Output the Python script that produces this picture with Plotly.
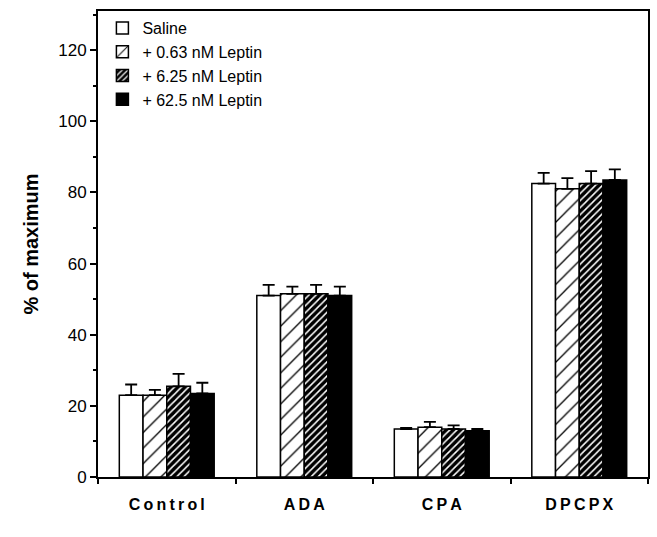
import plotly.graph_objects as go

categories = ["Control", "ADA", "CPA", "DPCPX"]
series_names = ["Saline", "+ 0.63 nM Leptin", "+ 6.25 nM Leptin", "+ 62.5 nM Leptin"]
saline = [23.0, 51.0, 13.5, 82.5]
lep063 = [23.0, 51.5, 14.0, 81.0]
lep625 = [25.5, 51.5, 13.5, 82.5]
lep625b = [23.5, 51.0, 13.0, 83.5]
saline_err = [3.0, 3.0, 0.3, 3.0]
lep063_err = [1.5, 2.0, 1.5, 3.0]
lep625_err = [3.5, 2.5, 1.0, 3.5]
lep625b_err = [3.0, 2.5, 0.5, 3.0]

values = [saline, lep063, lep625, lep625b]
errors = [saline_err, lep063_err, lep625_err, lep625b_err]

patterns = [
    dict(shape="", bgcolor="white", fgcolor="black"),
    dict(shape="/", bgcolor="white", fgcolor="black", size=11, solidity=0.12, fillmode="replace"),
    dict(shape="/", bgcolor="black", fgcolor="white", size=5, solidity=0.3, fillmode="replace"),
    dict(shape="", bgcolor="black", fgcolor="black"),
]
colors = ["white", "white", "black", "black"]

fig = go.Figure()
for name, v, e, pat, c in zip(series_names, values, errors, patterns, colors):
    fig.add_trace(go.Bar(
        x=categories, y=v, name=name,
        marker=dict(color=c, pattern=pat, line=dict(color="black", width=1.5)),
        error_y=dict(type="data", array=e, arrayminus=[0] * len(e), symmetric=False,
                     color="black", thickness=1.8, width=6),
    ))

sp = "\u2009"
def spaced(s):
    return "<b>" + sp.join(list(s)) + "</b>"

font_family = "Liberation Sans, Arial, Helvetica, sans-serif"
fig.update_layout(
    width=657, height=537,
    margin=dict(l=98, r=7, t=11, b=60),
    paper_bgcolor="white", plot_bgcolor="white",
    barmode="group", bargap=0.31, bargroupgap=0,
    font=dict(family=font_family, color="black", size=16),
    showlegend=True,
    legend=dict(x=0.008, y=1.0, xanchor="left", yanchor="top",
                bgcolor="rgba(0,0,0,0)", font=dict(size=16), tracegroupgap=0,
                itemwidth=30),
    xaxis=dict(
        showline=True, linecolor="black", linewidth=2, mirror=True,
        ticks="outside", ticklen=5, tickwidth=2, tickcolor="black",
        tickson="boundaries",
        tickmode="array", tickvals=categories,
        ticktext=[spaced(c) for c in categories],
        tickfont=dict(size=16),
        ticklabelstandoff=12,
        showgrid=False,
    ),
    yaxis=dict(
        range=[0, 131],
        showline=True, linecolor="black", linewidth=2, mirror=True,
        ticks="outside", ticklen=6, tickwidth=2, tickcolor="black",
        tickvals=[0, 20, 40, 60, 80, 100, 120],
        minor=dict(tickvals=[10, 30, 50, 70, 90, 110, 130], ticks="outside", ticklen=3, tickwidth=1.5, tickcolor="black"),
        tickfont=dict(size=17),
        showgrid=False, zeroline=False,
        title=dict(text="<b>% of maximum</b>", font=dict(size=20), standoff=14),
    ),
)

fig.write_html("out.html")
